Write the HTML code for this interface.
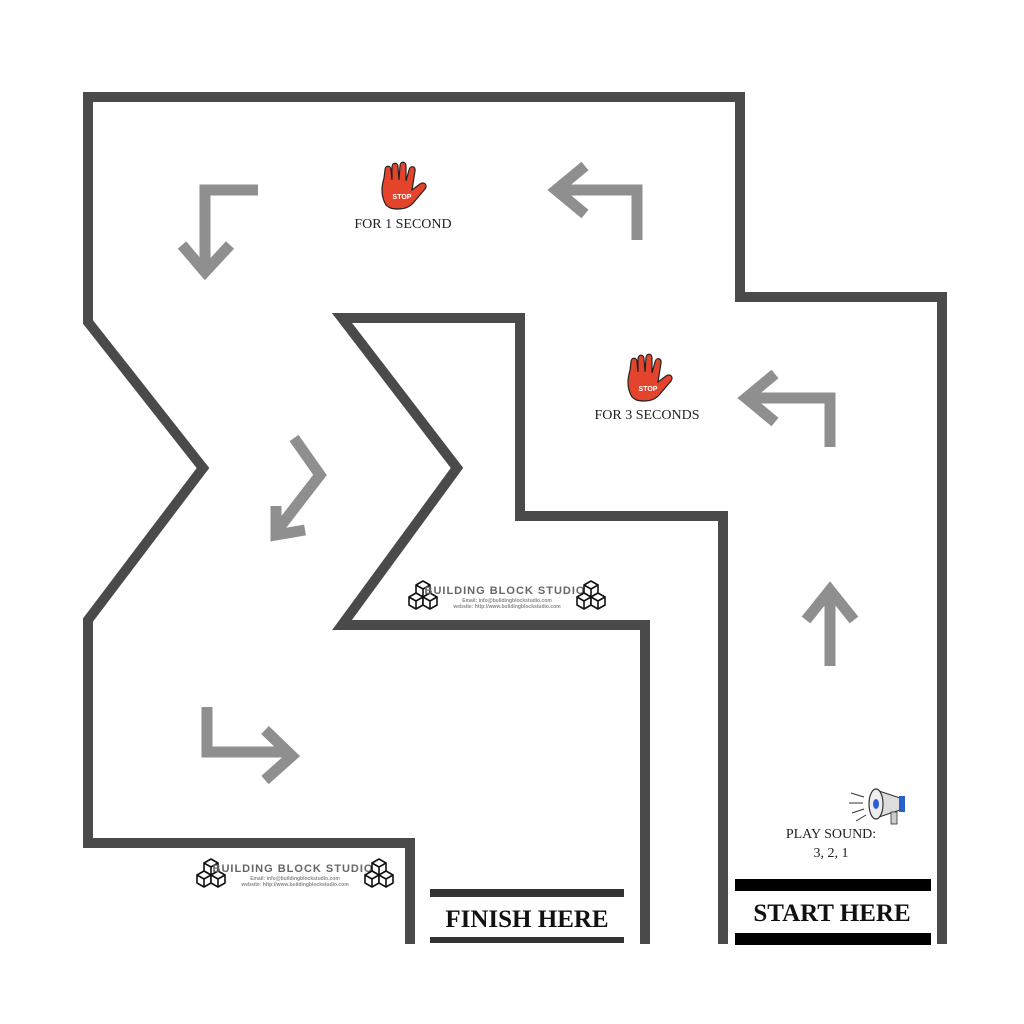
<!DOCTYPE html>
<html><head><meta charset="utf-8"><style>
html,body{margin:0;padding:0;background:#fff}
svg{display:block}
</style></head><body>
<svg width="1024" height="1024" viewBox="0 0 1024 1024" xmlns="http://www.w3.org/2000/svg" font-family="Liberation Serif,serif">
<defs>
<g id="cube" fill="#fff" stroke="#111" stroke-width="1.6" stroke-linejoin="round">
<path d="M0,-4 L7,-8 L14,-4 L14,4 L7,8 L0,4Z"/><path d="M0,-4 L7,0 L14,-4 M7,0 L7,8" fill="none"/>
</g>
<g id="cubes"><use href="#cube" x="7" y="-6"/><use href="#cube" x="0" y="6"/><use href="#cube" x="14" y="6"/></g>
</defs>
<rect width="1024" height="1024" fill="#fff"/>
<g fill="none" stroke="#4a4a4a" stroke-width="10" stroke-linejoin="miter">
<path d="M410,944 L410,843 L88,843 L88,620 L203,468 L88,322 L88,97 L740,97 L740,297 L942,297 L942,944"/>
<path d="M645,944 L645,625 L342,625 L457,468 L342,318 L520,318 L520,516 L723,516 L723,944"/>
</g>
<g fill="none" stroke="#8f8f8f" stroke-width="11" stroke-linejoin="miter" stroke-linecap="butt">
<path d="M258,190 L205,190 L205,272"/><path d="M182,245 L205,272 L230,245"/>
<path d="M637,240 L637,190 L556,190"/><path d="M585,166 L556,190 L585,214"/>
<path d="M830,447 L830,398 L746,398"/><path d="M775,374 L746,398 L775,422"/>
<path d="M830,666 L830,590"/><path d="M806,620 L830,590 L854,620"/>
<path d="M294,438 L320,475 L276,532"/><path d="M276,506 L276,535 L305,530"/>
<path d="M207,707 L207,752 L290,752"/><path d="M265,730 L292,756 L265,780"/>
</g>
<g id="hand">
<path d="M386,205 C380,195 382,185 384,178 L385,170 C385,165 391,165 391,170 L392,180 L392,167 C392,162 398,162 398,167 L399,180 L400,166 C400,161 406,161 406,166 L406,181 L409,170 C410,165 416,166 415,171 L412,190 L420,184 C424,181 428,185 425,189 L414,202 C410,207 404,209 398,209 C392,209 389,208 386,205Z" fill="#e5442c" stroke="#222" stroke-width="1.2"/>
<text x="402" y="199" style="font-family:'Liberation Sans',sans-serif" font-size="7" font-weight="bold" fill="#fff" text-anchor="middle">STOP</text>
</g>
<use href="#hand" transform="translate(246,192)"/>
<text x="403" y="228" font-size="14" text-anchor="middle" fill="#222">FOR 1 SECOND</text>
<text x="647" y="419" font-size="14" text-anchor="middle" fill="#222">FOR 3 SECONDS</text>
<g>
<path d="M876,790 L900,798 L900,810 L876,818Z" fill="#ddd" stroke="#333" stroke-width="1"/>
<ellipse cx="876" cy="804" rx="7" ry="15" fill="#eee" stroke="#333" stroke-width="1.2"/>
<ellipse cx="876" cy="804" rx="3" ry="5" fill="#2a5fd0"/>
<rect x="899" y="796" width="6" height="16" fill="#2a5fd0"/>
<rect x="891" y="812" width="6" height="12" fill="#ccc" stroke="#333" stroke-width="0.8"/>
<path d="M851,793 L864,797 M849,803 L863,803 M852,813 L864,809 M856,821 L866,815" stroke="#333" stroke-width="1"/>
</g>
<text x="831" y="838" font-size="14" text-anchor="middle" fill="#222">PLAY SOUND:</text>
<text x="831" y="857" font-size="14" text-anchor="middle" fill="#222">3, 2, 1</text>
<rect x="430" y="889" width="194" height="8" fill="#333"/>
<rect x="430" y="937" width="194" height="6" fill="#333"/>
<text x="527" y="927" font-size="25" font-weight="bold" text-anchor="middle" fill="#111">FINISH HERE</text>
<rect x="735" y="879" width="196" height="12" fill="#000"/>
<rect x="735" y="933" width="196" height="12" fill="#000"/>
<text x="832" y="921" font-size="25" font-weight="bold" text-anchor="middle" fill="#111">START HERE</text>
<g id="logo">
<use href="#cubes" x="409" y="595"/>
<text x="505" y="594" style="font-family:'Liberation Sans',sans-serif" font-size="11" font-weight="bold" fill="#666" text-anchor="middle" letter-spacing="1">BUILDING BLOCK STUDIO</text>
<text x="507" y="602" style="font-family:'Liberation Sans',sans-serif" font-size="5" font-weight="bold" fill="#888" text-anchor="middle">Email: info@buildingblockstudio.com</text>
<text x="507" y="608" style="font-family:'Liberation Sans',sans-serif" font-size="5" font-weight="bold" fill="#888" text-anchor="middle">website: http://www.buildingblockstudio.com</text>
<use href="#cubes" x="577" y="595"/>
</g>
<use href="#logo" transform="translate(-212,278)"/>
</svg>
</body></html>
